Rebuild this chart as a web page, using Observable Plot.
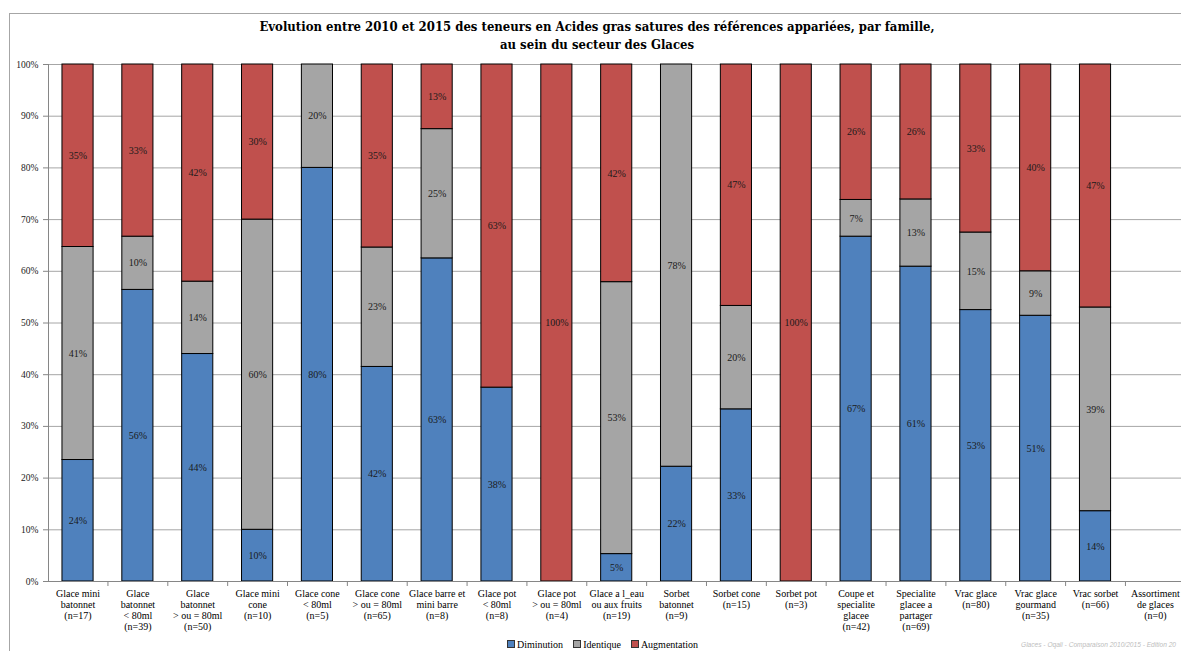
<!DOCTYPE html>
<html>
<head>
<meta charset="utf-8">
<script src="https://cdn.jsdelivr.net/npm/d3@7"></script>
<script src="https://cdn.jsdelivr.net/npm/@observablehq/plot@0.6"></script>
<style>
  html, body { margin: 0; padding: 0; background: #fff; overflow: hidden; }
  #wrap { position: relative; width: 1181px; height: 651px; overflow: hidden; font-family: "Liberation Serif", serif; }
  #frame { position: absolute; left: 9px; top: 13px; width: 1200px; height: 700px; border-top: 1px solid #a6a6a6; border-left: 1px solid #a6a6a6; }
  #title { position: absolute; left: 9px; width: 1176px; top: 18px; text-align: center; font-family: "DejaVu Serif Condensed", "DejaVu Serif", serif; font-stretch: condensed; font-weight: bold; font-size: 13px; line-height: 18px; color: #000; }
  #chart { position: absolute; left: 0; top: 0; }
  #legend { position: absolute; left: 507px; top: 639px; font-size: 10px; color: #000; white-space: nowrap; display: flex; gap: 10px; align-items: center; }
  #legend span.sw { display: inline-block; width: 6px; height: 6px; border: 1px solid #333; margin-right: 2px; }
  #caption { position: absolute; left: 1021px; top: 641px; font-family: "Liberation Sans", sans-serif; font-style: italic; font-size: 6.6px; color: #bdbdbd; white-space: nowrap; }
</style>
</head>
<body>
<div id="wrap">
  <div id="frame"></div>
  <div id="chart"></div>
  <div id="title">Evolution entre 2010 et 2015 des teneurs en Acides gras satures des références appariées, par famille,<br>au sein du secteur des Glaces</div>
  <div id="legend"></div>
  <div id="caption">Glaces - Oqali - Comparaison 2010/2015 - Edition 20</div>
</div>
<script>
// ---- Data (shares of references per family) ----
const categories = [
  "Glace mini\nbatonnet\n(n=17)",
  "Glace\nbatonnet\n< 80ml\n(n=39)",
  "Glace\nbatonnet\n> ou = 80ml\n(n=50)",
  "Glace mini\ncone\n(n=10)",
  "Glace cone\n< 80ml\n(n=5)",
  "Glace cone\n> ou = 80ml\n(n=65)",
  "Glace barre et\nmini barre\n(n=8)",
  "Glace pot\n< 80ml\n(n=8)",
  "Glace pot\n> ou = 80ml\n(n=4)",
  "Glace a l_eau\nou aux fruits\n(n=19)",
  "Sorbet\nbatonnet\n(n=9)",
  "Sorbet cone\n(n=15)",
  "Sorbet pot\n(n=3)",
  "Coupe et\nspecialite\nglacee\n(n=42)",
  "Specialite\nglacee a\npartager\n(n=69)",
  "Vrac glace\n(n=80)",
  "Vrac glace\ngourmand\n(n=35)",
  "Vrac sorbet\n(n=66)",
  "Assortiment\nde glaces\n(n=0)"
];
const seriesNames = ["Diminution", "Identique", "Augmentation"];
const diminution   = [0.235, 0.564, 0.44, 0.10, 0.80, 0.415, 0.625, 0.375, 0, 0.053, 0.222, 0.333, 0, 0.667, 0.609, 0.525, 0.514, 0.136, 0];
const identique    = [0.412, 0.103, 0.14, 0.60, 0.20, 0.231, 0.25, 0, 0, 0.526, 0.778, 0.20, 0, 0.071, 0.130, 0.15, 0.086, 0.394, 0];
const augmentation = [0.353, 0.333, 0.42, 0.30, 0, 0.354, 0.125, 0.625, 1, 0.421, 0, 0.467, 1, 0.262, 0.261, 0.325, 0.40, 0.470, 0];
const yTicks = [0, 0.1, 0.2, 0.3, 0.4, 0.5, 0.6, 0.7, 0.8, 0.9, 1];
const seriesColors = ["#4F81BD", "#A5A5A5", "#C0504D"];

// ---- Long table built from the arrays ----
const seriesValues = [diminution, identique, augmentation];
const table = [];
categories.forEach((c, i) => {
  seriesNames.forEach((s, j) => {
    table.push({cat: c, series: s, value: seriesValues[j][i]});
  });
});

const xRange = [47.6, 1184.8];
const step = (xRange[1] - xRange[0]) / categories.length;

const chart = Plot.plot({
  width: 1181,
  height: 651,
  marginTop: 64,
  marginBottom: 70,
  marginLeft: 48,
  marginRight: 0,
  style: {fontFamily: "Liberation Serif, serif", fontSize: "10px", background: "transparent", color: "#000"},
  x: {domain: categories, range: xRange, paddingInner: 0.48, paddingOuter: 0.24, round: false, label: null},
  y: {domain: [0, 1], label: null},
  color: {domain: seriesNames, range: seriesColors},
  marks: [
    Plot.gridY(yTicks, {stroke: "#a6a6a6", strokeOpacity: 1}),
    Plot.barY(table, {
      filter: d => d.value > 0,
      x: "cat", y: "value", fill: "series",
      stroke: "#000", strokeWidth: 1
    }),
    Plot.text(table, Plot.stackY({
      filter: d => d.value > 0,
      x: "cat", y: "value",
      text: d => Math.round(d.value * 100) + "%",
      fill: "#1a1a1a", fontSize: 10
    })),
    Plot.frame({anchor: "left", stroke: "#868686"}),
    Plot.ruleY([0], {stroke: "#868686"}),
    Plot.ruleX(categories, {x: d => d, dx: step / 2, y1: 0, y2: 0, insetBottom: -5, stroke: "#868686"}),
    Plot.axisY(yTicks, {tickFormat: d3.format(".0%"), tickSize: 5, tickPadding: 5, stroke: "#868686", fill: "#222", fontSize: 9.5, label: null}),
    Plot.axisX({tickSize: 0, tickPadding: 8, lineHeight: 1.1, fill: "#000", fontSize: 10, label: null})
  ]
});
document.getElementById("chart").appendChild(chart);

// ---- Legend ----
const legend = document.getElementById("legend");
seriesNames.forEach((s, j) => {
  const item = document.createElement("span");
  const sw = document.createElement("span");
  sw.className = "sw";
  sw.style.background = seriesColors[j];
  item.appendChild(sw);
  item.appendChild(document.createTextNode(s));
  legend.appendChild(item);
});
</script>
</body>
</html>
